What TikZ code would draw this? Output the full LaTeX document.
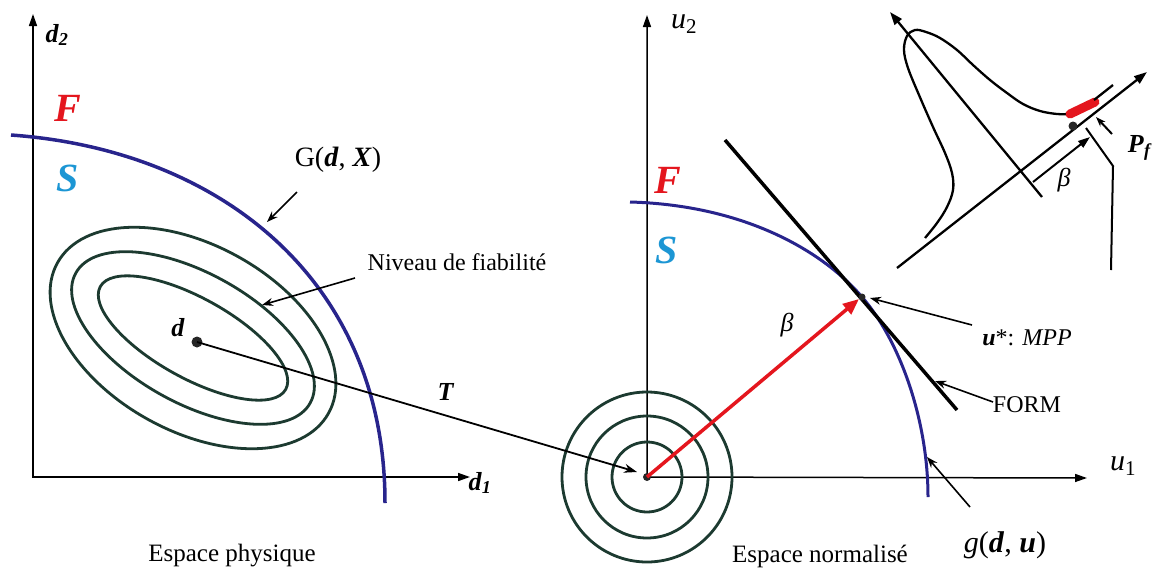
\documentclass[tikz,border=0pt]{standalone}
\usepackage{fontspec}
\setmainfont{Liberation Serif}
\usetikzlibrary{arrows.meta}
\definecolor{navy}{RGB}{40,36,140}
\definecolor{ringc}{RGB}{28,58,48}
\definecolor{fred}{RGB}{228,22,30}
\definecolor{scyan}{RGB}{28,150,212}
\newcommand{\bi}[1]{\textbf{\textit{#1}}}
\newcommand{\fs}[1]{\fontsize{#1}{#1}\selectfont}
\begin{document}
\begin{tikzpicture}[x=1pt,y=-1pt,
  axisline/.style={line width=1.5pt,{Triangle[length=12pt,width=8pt]}-{Triangle[length=12pt,width=8pt]}},
  gcurve/.style={navy,line width=3.5pt},
  ring/.style={ringc,line width=2.8pt},
  leader/.style={line width=1.6pt,-{Stealth[length=11pt,width=8pt]}},
  lbl/.style={inner sep=0pt,anchor=center},
  dotn/.style={circle,fill=black!85,inner sep=0pt,minimum size=#1},
  ins/.style={line width=2.3pt},
  insarrow/.style={line width=2.3pt,-{Triangle[length=13pt,width=9pt]}}]
\useasboundingbox (0,0) rectangle (1159,576);

% ---------------- left panel ----------------
\coordinate (Y1) at (33,14);
\coordinate (O1) at (33,477);
\coordinate (X1) at (470,477);
\draw[axisline] (Y1) -- (O1) -- (X1);

\node[lbl] (d2) at (57,35) {\fs{26}\bi{d}\textsubscript{\bi{2}}};
\node[lbl] (F1) at (68,108) {\fs{40}\color{fred}\bi{F}};
\node[lbl] (S1) at (68,178) {\fs{40}\color{scyan}\bi{S}};
\node[lbl] (d1) at (480,483) {\fs{26}\bi{d}\textsubscript{\bi{1}}};

\coordinate (g1a) at (11,135);
\coordinate (g1b) at (385,503);
\draw[gcurve] (g1a) .. controls (220,150) and (385,280) .. (g1b);

\coordinate (c1) at (193,338);
\draw[ring,rotate around={-29:(c1)}] (c1) ellipse [x radius=155pt, y radius=93pt];
\draw[ring,rotate around={-29:(c1)}] (c1) ellipse [x radius=134pt, y radius=65pt];
\draw[ring,rotate around={-29:(c1)}] (c1) ellipse [x radius=106pt, y radius=40pt];

\node[lbl] (G) at (338,160) {\fs{28}G(\bi{d}, \bi{X})};
\coordinate (Gs) at (297,192);
\coordinate (Gt) at (267,222);
\draw[leader] (Gs) -- (Gt);

\node[lbl] (niv) at (457,262) {\fs{24}Niveau de fiabilité};
\coordinate (ns) at (355,278);
\coordinate (nt) at (262,305);
\draw[leader] (ns) -- (nt);

\node[lbl] (dl) at (178,328) {\fs{26}\bi{d}};
\node[dotn=11pt] (dd) at (197,342) {};
\node[lbl] (T) at (446,392) {\fs{26}\bi{T}};

\node[lbl] (ep) at (232,556) {\fs{25}Espace physique};

% ---------------- right panel ----------------
\coordinate (Y2) at (647,15);
\coordinate (O2) at (647,477);
\coordinate (X2) at (1087,478);
\draw[axisline] (Y2) -- (O2) -- (X2);

\node[lbl] (u2) at (684,24) {\fs{30}\textit{u}\textsubscript{2}};
\node[lbl] (u1) at (1123,466) {\fs{30}\textit{u}\textsubscript{1}};
\node[lbl] (F2) at (668,180) {\fs{40}\color{fred}\bi{F}};
\node[lbl] (S2) at (667,250) {\fs{40}\color{scyan}\bi{S}};

\draw[ring] (O2) circle[radius=35pt];
\draw[ring] (O2) circle[radius=61pt];
\draw[ring] (O2) circle[radius=85pt];

\coordinate (g2a) at (630,202);
\coordinate (mpp) at (862,297);
\coordinate (g2b) at (928,497);
\draw[gcurve,line width=3pt] (g2a) .. controls (740,205) and (820,248) .. (mpp)
  .. controls (900,341) and (928,420) .. (g2b);

\coordinate (ta) at (725,140);
\coordinate (tb) at (957,410);
\draw[line width=3.5pt] (ta) -- (tb);

\node[dotn=8pt] (o2) at (647,477) {};
\coordinate (tT) at (637,472);
\draw[line width=1.8pt,-{Stealth[length=13pt,width=9pt]}] (dd.center) -- (tT);

\coordinate (mppa) at (859,299);
\draw[fred,line width=3.5pt,-{Triangle[length=16pt,width=13pt]}] (o2.center) -- (mppa);
\node[dotn=7pt] (mppd) at (mpp) {};
\node[lbl] (beta) at (787,325) {\fs{26}\textit{β}};

\node[lbl] (mppl) at (1027,338) {\fs{24}\bi{u}*: \textit{MPP}};
\coordinate (ms) at (972,325);
\coordinate (mt) at (870,298);
\draw[leader] (ms) -- (mt);

\node[lbl] (form) at (1027,405) {\fs{24}FORM};
\coordinate (fs) at (993,402);
\coordinate (ft) at (935,381);
\draw[leader] (fs) -- (ft);

\node[lbl] (gl) at (1005,545) {\fs{30}\textit{g}(\bi{d}, \bi{u})};
\coordinate (gs) at (970,507);
\coordinate (gt) at (927,457);
\draw[leader] (gs) -- (gt);

\node[lbl] (en) at (820,556) {\fs{25}Espace normalisé};

% ---------------- inset ----------------
\coordinate (Aa) at (897,268);
\coordinate (Ab) at (1147,72);
\coordinate (Ba) at (1042,197);
\coordinate (Bb) at (890,12);
\draw[insarrow] (Aa) -- (Ab);
\draw[insarrow] (Ba) -- (Bb);

\draw[ins] plot[smooth,tension=0.6] coordinates {(925,238) (937,223) (947,207) (953,190) (952,173) (945,153) (933,127) (919,95) (908,68) (904,50) (907,36) (915,30) (926,32) (940,38) (957,50) (973,65) (990,80) (1007,93) (1023,104) (1040,111) (1057,114) (1068,114)};
\draw[fred,line width=9pt,line cap=round] (1070,114) -- (1095,102);
\coordinate (tl1) at (1094,100);
\coordinate (tl2) at (1113,85);
\draw[ins] (tl1) -- (tl2);
\node[dotn=9pt] (fp) at (1073,126) {};

\coordinate (bs) at (1033,182);
\coordinate (bt) at (1090,137);
\draw[line width=2pt,-{Triangle[length=12pt,width=8pt]}] (bs) -- (bt);
\node[lbl] (beta2) at (1064,180) {\fs{26}\textit{β}};

\coordinate (e1) at (1086,128);
\coordinate (e2) at (1113,166);
\coordinate (e3) at (1111,270);
\draw[line width=2pt] (e1) -- (e2) -- (e3);

\coordinate (ps) at (1112,134);
\coordinate (pt) at (1096,117);
\draw[line width=2pt,-{Stealth[length=10pt,width=7pt]}] (ps) -- (pt);
\node[lbl] (pf) at (1140,148) {\fs{26}\bi{P}\textsubscript{\bi{f}}};
\end{tikzpicture}
\end{document}
